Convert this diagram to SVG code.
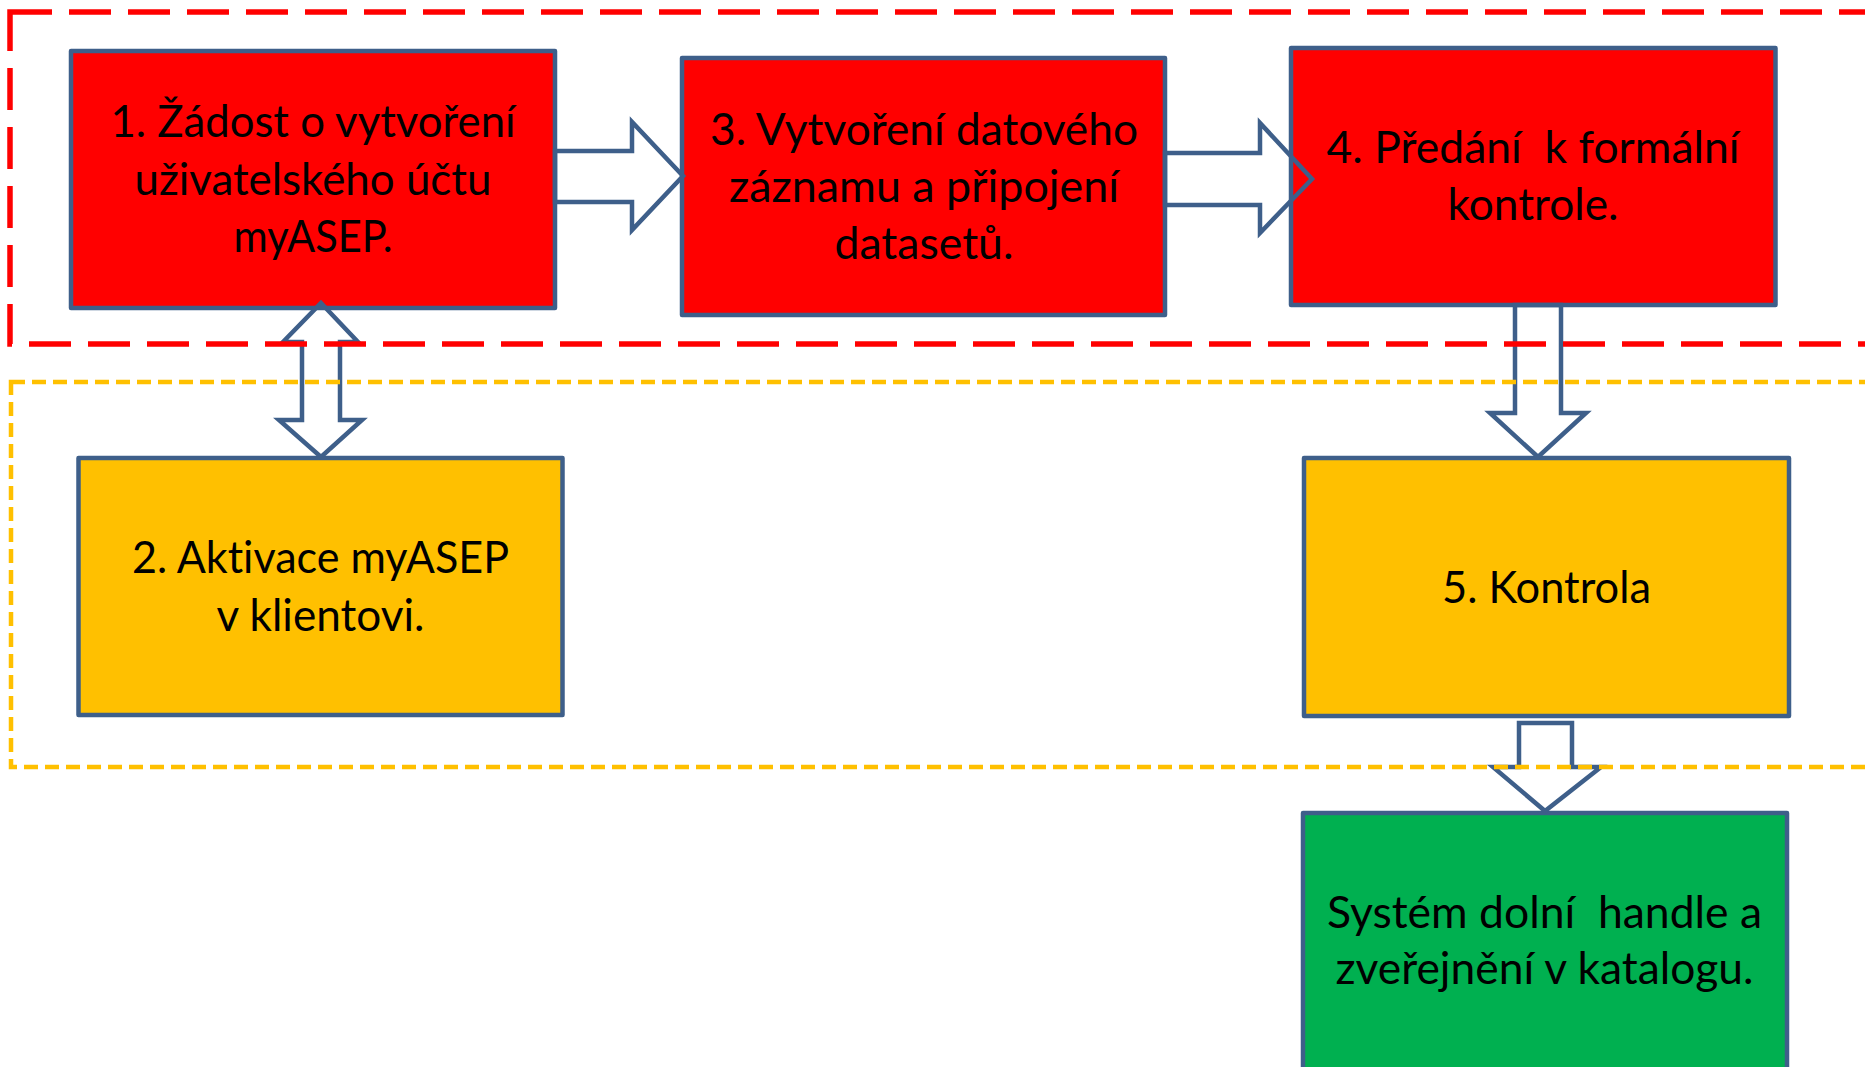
<svg xmlns="http://www.w3.org/2000/svg" width="1865" height="1067" viewBox="0 0 1865 1067">
<style>
.box{stroke:#3E5F8A;stroke-width:4.5;stroke-linejoin:round}
.red{fill:#FF0000}
.org{fill:#FFC000}
.grn{fill:#00B050}
.t{font-family:Lato,"Open Sans","Liberation Sans",sans-serif;font-size:44px;fill:#000;text-anchor:middle;font-variant-ligatures:none}
.arr{fill:none;stroke:#3E5F8A;stroke-width:4.5;stroke-linejoin:miter}
.zone-red{fill:none;stroke:#FF0000;stroke-width:5.5;stroke-dasharray:42 17}
.zone-org{fill:none;stroke:#FFC000;stroke-width:4.5;stroke-dasharray:14 7}
</style>
<rect width="1865" height="1067" fill="#FFFFFF"/>
<g id="node1">
<rect class="box red" x="71" y="51" width="484" height="257"/>
<text class="t" x="313" y="137" textLength="405" lengthAdjust="spacingAndGlyphs">1. Žádost o vytvoření</text>
<text class="t" x="313" y="195" textLength="357" lengthAdjust="spacingAndGlyphs">uživatelského účtu</text>
<text class="t" x="313" y="252" textLength="159" lengthAdjust="spacingAndGlyphs">myASEP.</text>
</g>
<g id="node3">
<rect class="box red" x="682" y="58" width="483" height="257"/>
<text class="t" x="924" y="145" textLength="428" lengthAdjust="spacingAndGlyphs">3. Vytvoření datového</text>
<text class="t" x="924" y="202" textLength="390" lengthAdjust="spacingAndGlyphs">záznamu a připojení</text>
<text class="t" x="924" y="259" textLength="179" lengthAdjust="spacingAndGlyphs">datasetů.</text>
</g>
<g id="node4">
<rect class="box red" x="1291" y="48" width="484.5" height="257"/>
<text class="t" x="1533" y="163" textLength="413" lengthAdjust="spacingAndGlyphs" xml:space="preserve">4. Předání  k formální</text>
<text class="t" x="1533" y="220" textLength="171" lengthAdjust="spacingAndGlyphs">kontrole.</text>
</g>
<g id="node2">
<rect class="box org" x="78.5" y="458" width="484" height="257"/>
<text class="t" x="320.5" y="573" textLength="377" lengthAdjust="spacingAndGlyphs">2. Aktivace myASEP</text>
<text class="t" x="320.5" y="631" textLength="208" lengthAdjust="spacingAndGlyphs">v klientovi.</text>
</g>
<g id="node5">
<rect class="box org" x="1304" y="458" width="485" height="258"/>
<text class="t" x="1546.5" y="603" textLength="209" lengthAdjust="spacingAndGlyphs">5. Kontrola</text>
</g>
<g id="node6">
<rect class="box grn" x="1303" y="813" width="484" height="270"/>
<text class="t" x="1544.5" y="928" textLength="435" lengthAdjust="spacingAndGlyphs" xml:space="preserve">Systém dolní  handle a</text>
<text class="t" x="1544.5" y="984" textLength="418" lengthAdjust="spacingAndGlyphs">zveřejnění v katalogu.</text>
</g>
<g id="connectors">
<polygon class="arr" points="555,151 632,151 632,122 683,176 632,230 632,202 555,202"/>
<polygon class="arr" points="1165,153 1260,153 1260,123 1312,179 1260,233 1260,205 1165,205"/>
<polygon class="arr" points="1515,305 1515,413 1490,413 1538,457 1586,413 1561,413 1561,305"/>
<polygon class="arr" points="321,303 358,342 340,342 340,420 362,420 321,457 279,420 302,420 302,342 283,342"/>
<polygon class="arr" points="1519,723 1572,723 1572,767 1601,767 1545,811 1493,767 1519,767"/>
</g>
<g id="zone-top">
<rect class="zone-red" x="10" y="12" width="1900" height="332"/>
</g>
<g id="zone-middle">
<rect class="zone-org" x="11" y="382" width="1900" height="385"/>
</g>
</svg>
